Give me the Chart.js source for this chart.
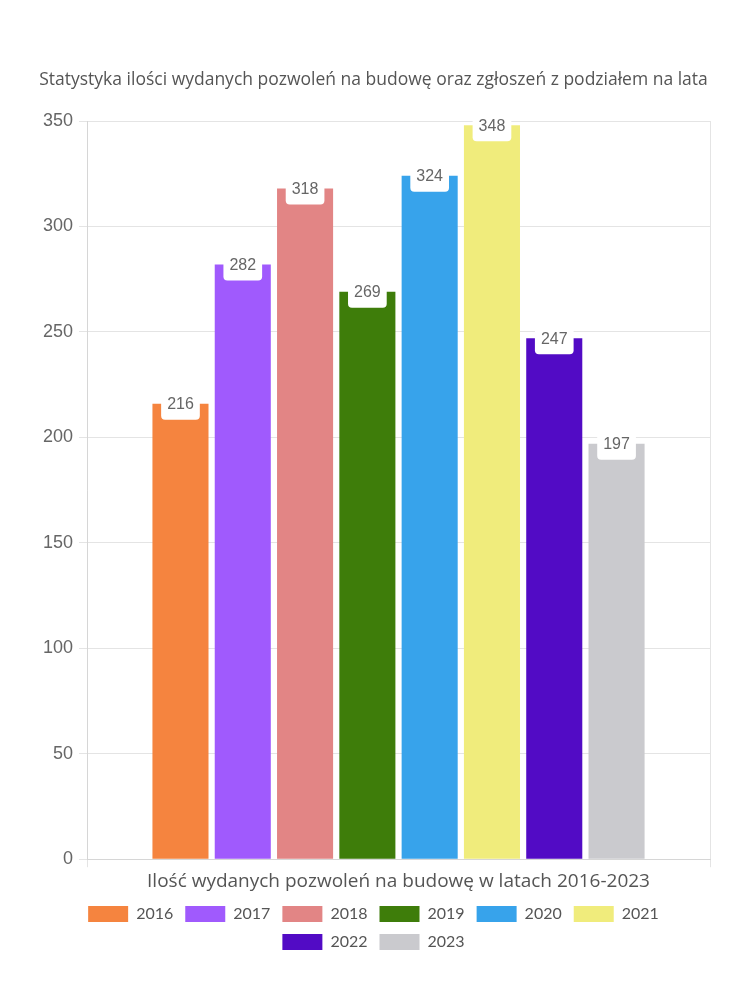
<!DOCTYPE html>
<html>
<head>
<meta charset="utf-8">
<script src="https://cdn.jsdelivr.net/npm/chart.js@4"></script>
<style>
  html, body { margin: 0; padding: 0; background: #fff; }
  #wrap { width: 750px; height: 1000px; }
</style>
</head>
<body>
<div id="wrap"><canvas id="permits-chart" width="750" height="1000"></canvas></div>
<script>
// values
const years = ['2016', '2017', '2018', '2019', '2020', '2021', '2022', '2023'];
const permits = [216, 282, 318, 269, 324, 348, 247, 197];
const yearColors = ['#f5843f', '#a05afd', '#e28585', '#3e7d0a', '#37a3eb', '#f0ec7c', '#520bc5', '#cacace'];
const yTicks = [0, 50, 100, 150, 200, 250, 300, 350];

const titleText = 'Statystyka ilości wydanych pozwoleń na budowę oraz zgłoszeń z podziałem na lata';
const xTitleText = 'Ilość wydanych pozwoleń na budowę w latach 2016-2023';

const roundFont = '"Open Sans", Lato, sans-serif';
const legendFont = 'Lato, "Open Sans", sans-serif';
const numFont = '"Liberation Sans", Arial, sans-serif';

/* ---- white boxed value labels at bar tops ---- */
const valueBoxes = {
  id: 'valueBoxes',
  afterDatasetsDraw(chart) {
    const ctx = chart.ctx;
    ctx.save();
    ctx.font = '16px ' + numFont;
    ctx.textAlign = 'center';
    ctx.textBaseline = 'middle';
    chart.data.datasets.forEach((ds, i) => {
      const meta = chart.getDatasetMeta(i);
      meta.data.forEach((bar, j) => {
        const txt = String(ds.data[j]);
        const w = ctx.measureText(txt).width + 12;
        const h = 30;
        const x = bar.x - w / 2;
        const y = bar.y - 14;
        ctx.fillStyle = '#fff';
        ctx.beginPath();
        ctx.roundRect(x, y, w, h, 4);
        ctx.fill();
        ctx.fillStyle = '#666';
        ctx.fillText(txt, bar.x, bar.y + 1);
      });
    });
    ctx.restore();
  }
};

new Chart(document.getElementById('permits-chart'), {
  type: 'bar',
  data: {
    labels: [''],
    datasets: years.map((yr, i) => ({
      label: yr,
      data: [permits[i]],
      backgroundColor: yearColors[i],
      borderWidth: 0,
      categoryPercentage: 0.8,
      barPercentage: 0.9
    }))
  },
  options: {
    responsive: false,
    animation: false,
    layout: { padding: { top: 70, left: 37, right: 40, bottom: 40 } },
    plugins: {
      title: {
        display: true,
        text: titleText,
        color: '#555',
        font: { family: roundFont, size: 17.5, weight: 'normal' },
        padding: { top: 0, bottom: 30 }
      },
      legend: {
        position: 'bottom',
        labels: {
          color: '#555',
          font: { family: legendFont, size: 16 },
          boxWidth: 40,
          boxHeight: 16,
          padding: 12
        }
      },
      tooltip: { enabled: false }
    },
    scales: {
      x: {
        grid: { color: '#e4e4e4', offset: true },
        border: { color: '#d6d6d6' },
        ticks: { display: false },
        title: {
          display: true,
          text: xTitleText,
          color: '#555',
          font: { family: roundFont, size: 19 },
          padding: { top: 3, bottom: 1 }
        }
      },
      y: {
        min: 0,
        max: 350,
        afterBuildTicks: (axis) => { axis.ticks = yTicks.map(v => ({ value: v })); },
        grid: { color: '#e4e4e4' },
        border: { color: '#d6d6d6' },
        ticks: {
          color: '#666',
          font: { family: numFont, size: 18 },
          padding: 6
        }
      }
    }
  },
  plugins: [valueBoxes]
});
</script>
</body>
</html>
